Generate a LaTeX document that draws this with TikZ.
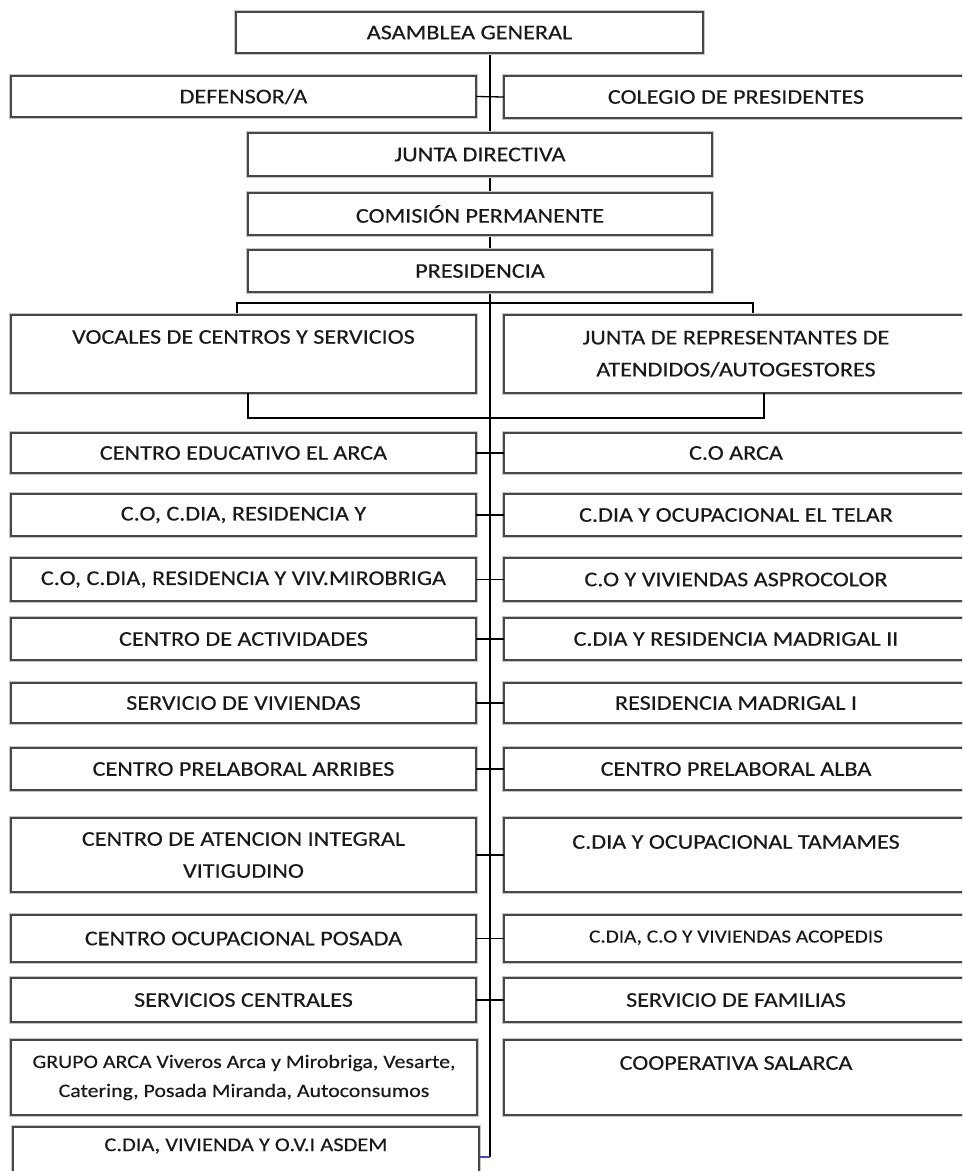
\documentclass[tikz,border=0pt]{standalone}
\usepackage{fontspec}
\setmainfont{Carlito}[FakeStretch=1.15,FakeBold=0.25]
\tikzset{
  box/.style={draw=black!72, line width=1.6pt, fill=white, inner sep=0pt, outer sep=0pt,
    preaction={draw=black!22, line width=3.2pt},
    anchor=north west, font=\fontsize{21}{32}\selectfont, text=black!90, align=center},
  conn/.style={draw=black, line width=1.3pt},
  lbl/.style={font=\fontsize{21}{32}\selectfont, text=black!90, align=center, inner sep=0pt},
  small/.style={font=\fontsize{19}{29}\selectfont},
}
\newcommand\obox[6]{\node[box,minimum width={(#4-#2)*1pt},minimum height={(#5-#3)*1pt}] (#1) at (#2,#3) {#6};}
\begin{document}
\begin{tikzpicture}[x=1pt,y=-1pt]
\useasboundingbox (0,0) rectangle (962,1171);
\clip (0,0) rectangle (962,1171);
\fill[white] (0,0) rectangle (962,1171);
\coordinate (spinetop) at (490,53);
\coordinate (spineend) at (490,1157);
\draw[conn] (spinetop) -- (spineend);
% top chain
\obox{asam}{236}{12}{703}{53}{ASAMBLEA GENERAL}
\obox{def}{11}{76}{476}{117}{DEFENSOR/A}
\obox{col}{504}{76}{968}{118}{COLEGIO DE PRESIDENTES}
\obox{jd}{248}{133}{712}{176}{JUNTA DIRECTIVA}
\obox{com}{248}{193}{712}{235}{COMISIÓN PERMANENTE}
\obox{pres}{248}{250}{712}{292}{PRESIDENCIA}
\draw[conn] (def.east) -- (col.west);
% brackets
\coordinate (b1) at (237,315);
\coordinate (b2) at (237,303);
\coordinate (b3) at (753,303);
\coordinate (b4) at (753,315);
\draw[conn] (b1) -- (b2) -- (b3) -- (b4);
\obox{voc}{11}{315}{476}{393}{}
\node[lbl] (voct) at ([yshift=-22pt]voc.north) {VOCALES DE CENTROS Y SERVICIOS};
\obox{jrep}{504}{315}{968}{393}{JUNTA DE REPRESENTANTES DE\\ATENDIDOS/AUTOGESTORES}
\coordinate (c1) at (248,418);
\coordinate (c2) at (764,418);
\draw[conn] (voc.south -| c1) -- (c1) -- (c2) -- (jrep.south -| c2);
% rows
\obox{l1}{11}{433}{476}{473}{CENTRO EDUCATIVO EL ARCA}
\obox{r1}{504}{433}{968}{473}{C.O ARCA}
\obox{l2}{11}{494}{476}{536}{C.O, C.DIA, RESIDENCIA Y}
\obox{r2}{504}{494}{968}{536}{C.DIA Y OCUPACIONAL EL TELAR}
\obox{l3}{11}{558}{476}{601}{C.O, C.DIA, RESIDENCIA Y VIV.MIROBRIGA}
\obox{r3}{504}{558}{968}{601}{C.O Y VIVIENDAS ASPROCOLOR}
\obox{l4}{11}{618}{476}{660}{CENTRO DE ACTIVIDADES}
\obox{r4}{504}{618}{968}{660}{C.DIA Y RESIDENCIA MADRIGAL II}
\obox{l5}{11}{683}{476}{723}{SERVICIO DE VIVIENDAS}
\obox{r5}{504}{683}{968}{723}{RESIDENCIA MADRIGAL I}
\obox{l6}{11}{748}{476}{790}{CENTRO PRELABORAL ARRIBES}
\obox{r6}{504}{748}{968}{790}{CENTRO PRELABORAL ALBA}
\obox{l7}{11}{818}{476}{892}{CENTRO DE ATENCION INTEGRAL\\VITIGUDINO}
\obox{r7}{504}{818}{968}{892}{}
\node[lbl] (r7t) at ([yshift=-24pt]r7.north) {C.DIA Y OCUPACIONAL TAMAMES};
\obox{l8}{11}{915}{476}{962}{CENTRO OCUPACIONAL POSADA}
\node[box,font=\fontsize{18.5}{29}\selectfont,minimum width=464pt,minimum height=47pt] (r8) at (504,915) {\raisebox{4pt}{C.DIA, C.O Y VIVIENDAS ACOPEDIS}};
\obox{l9}{11}{978}{476}{1022}{SERVICIOS CENTRALES}
\obox{r9}{504}{978}{968}{1022}{SERVICIO DE FAMILIAS}
\node[box,small,minimum width=466pt,minimum height=75pt] (l10) at (11,1040) {GRUPO ARCA Viveros Arca y Mirobriga, Vesarte,\\Catering, Posada Miranda, Autoconsumos};
\obox{r10}{504}{1040}{968}{1115}{}
\node[lbl] (r10t) at ([yshift=-23pt]r10.north) {COOPERATIVA SALARCA};
\obox{l11}{13}{1127}{479}{1190}{}
\node[lbl,font=\fontsize{19.5}{29}\selectfont] (l11t) at ([yshift=-19pt]l11.north) {C.DIA, VIVIENDA Y O.V.I ASDEM};
% connectors between rows
\foreach \i in {1,...,9} {\draw[conn] (l\i.east) -- (r\i.west);}
\draw[draw=blue!45!gray, line width=1.2pt] (spineend) -- (spineend -| l11.east);
\end{tikzpicture}
\end{document}
